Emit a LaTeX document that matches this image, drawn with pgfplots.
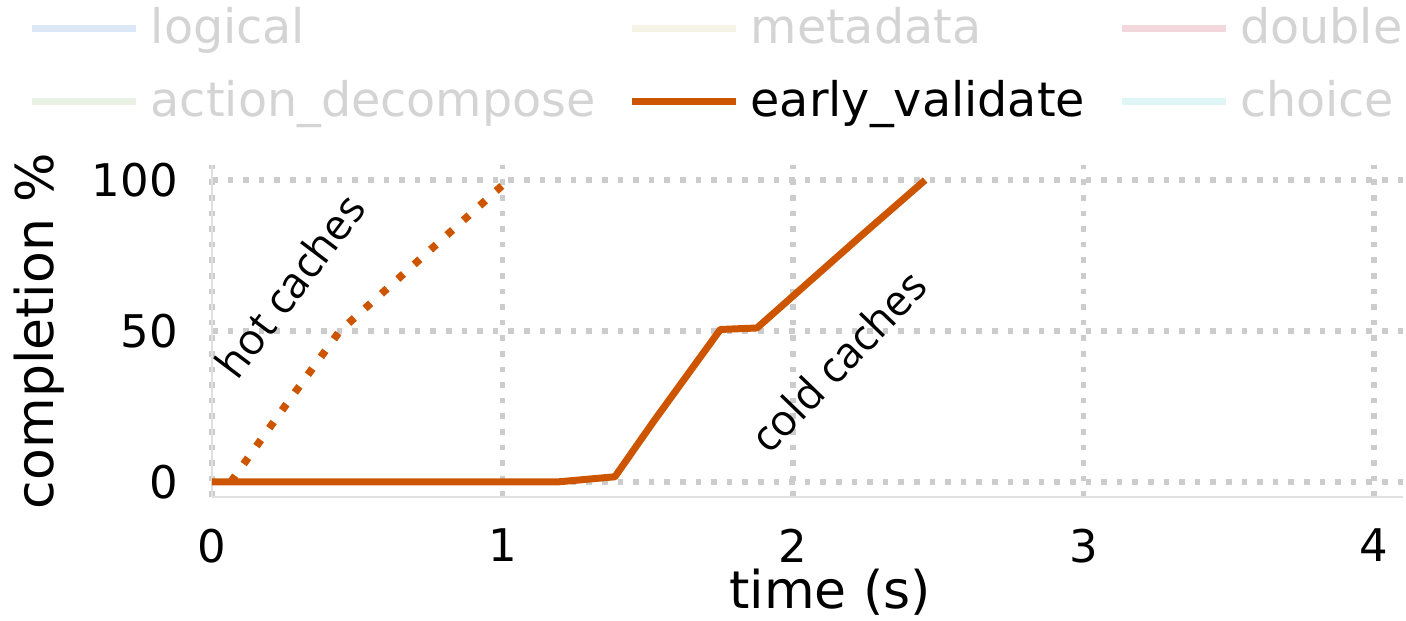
\documentclass[border=0pt]{standalone}
\usepackage{fontspec}
\setmainfont{DejaVu Sans}
\newfontfamily\annfont{Open Sans}
\usepackage{pgfplots}
\pgfplotsset{compat=1.18}
\definecolor{ev}{RGB}{205,85,0}
\definecolor{fadetext}{RGB}{212,212,212}
\definecolor{cLogical}{RGB}{220,232,245}
\definecolor{cMeta}{RGB}{245,243,230}
\definecolor{cDouble}{RGB}{242,216,220}
\definecolor{cAction}{RGB}{232,241,228}
\definecolor{cChoice}{RGB}{222,246,246}
\definecolor{gridc}{RGB}{204,204,204}
\definecolor{spinec}{RGB}{224,224,224}
\begin{document}
\begin{tikzpicture}
\useasboundingbox (-53pt,-31pt) rectangle (298.5pt,124.25pt);
\begin{axis}[
  scale only axis, width=297.75pt, height=83pt,
  xmin=0, xmax=4.1, ymin=-5, ymax=105,
  xtick={0,1,2,3,4}, ytick={0,50,100},
  axis x line*=bottom, axis y line*=left,
  axis line style={spinec, line width=0.5pt, -},
  major tick length=0pt, tick style={draw=none},
  grid=major,
  grid style={gridc, line width=1.4pt, dash pattern=on 1.4pt off 2.5pt},
  /pgf/number format/assume math mode=true,
  ticklabel style={font=\fontsize{11.25}{13}\selectfont},
  xticklabel style={yshift=-4.5pt},
  yticklabel style={xshift=-5pt},
  xlabel={time (s)}, ylabel={completion \%},
  label style={font=\fontsize{13}{15}\selectfont},
  xlabel style={at={(ticklabel cs:0.519,-5.5pt)}, anchor=north},
  ylabel style={at={(ticklabel cs:0.5,0pt)}},
  legend columns=3,
  legend cell align=left,
  legend style={draw=none, fill=none, at={(axis description cs:-0.1545,1.476)}, anchor=north west,
    font=\fontsize{11.9}{14}\selectfont, inner sep=0pt, nodes={inner sep=0pt}, row sep=7.5pt,
    /tikz/every odd column/.append style={column sep=2.75pt},
    /tikz/every even column/.append style={column sep=8.25pt}},
  legend image code/.code={\draw[#1, solid] (0pt,0pt) -- (26pt,0pt);},
]
\addlegendimage{cLogical, line width=1.75pt}
\addlegendentry{\textcolor{fadetext}{logical}}
\addlegendimage{cMeta, line width=1.75pt}
\addlegendentry{\textcolor{fadetext}{metadata}}
\addlegendimage{cDouble, line width=1.75pt}
\addlegendentry{\textcolor{fadetext}{double}}
\addlegendimage{cAction, line width=1.75pt}
\addlegendentry{\textcolor{fadetext}{action\_decompose}}
\addplot[ev, line width=1.75pt, line join=round] coordinates {
 (0,0) (1.19,0) (1.387,1.7) (1.52,20) (1.75,50.5) (1.876,51) (2.24,82) (2.455,100)};
\addlegendentry{early\_validate}
\addlegendimage{cChoice, line width=1.75pt}
\addlegendentry{\textcolor{fadetext}{choice}}
\addplot[ev, line width=1.9pt, dash pattern=on 1.9pt off 3.6pt, forget plot] coordinates {
 (0.065,0) (0.258,26) (0.44,50) (1.02,100)};
\node[font=\annfont\fontsize{10.8}{12}\selectfont, rotate=53] at (axis cs:0.268,65) {hot caches};
\node[font=\annfont\fontsize{10.8}{12}\selectfont, rotate=46] at (axis cs:2.155,40) {cold caches};
\end{axis}
\end{tikzpicture}
\end{document}
